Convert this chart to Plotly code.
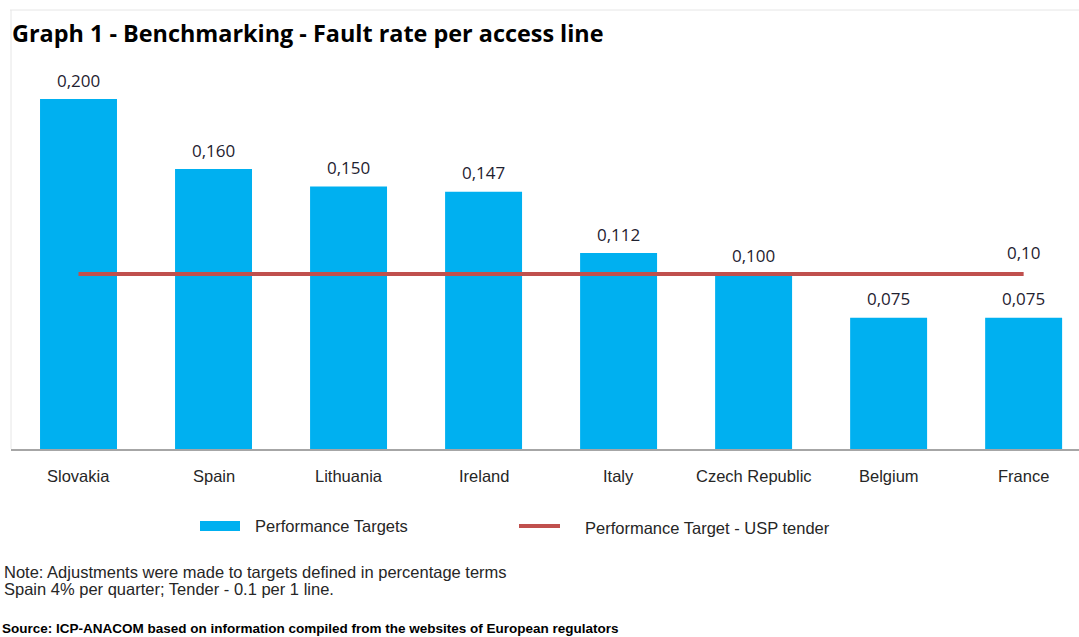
import plotly.graph_objects as go

countries = ["Slovakia", "Spain", "Lithuania", "Ireland", "Italy",
             "Czech Republic", "Belgium", "France"]
targets = [0.200, 0.160, 0.150, 0.147, 0.112, 0.100, 0.075, 0.075]
target_labels = ["0,200", "0,160", "0,150", "0,147", "0,112", "0,100", "0,075", "0,075"]
usp_tender = [0.10] * len(countries)
usp_label = "0,10"

BLUE = "#00B0F0"
RED = "#C0504D"

W, H = 1079, 637
pl, pr, pt, pb = 11, 0, 10, 188
pw, ph = W - pl - pr, H - pt - pb


def px(xp):
    return (xp - pl) / pw


def py(yp):
    return (H - pb - yp) / ph


fig = go.Figure()
fig.add_trace(go.Bar(x=countries, y=targets, marker_color=BLUE,
                     marker_line_width=0, width=0.57, showlegend=False))
fig.add_trace(go.Scatter(x=countries, y=usp_tender, mode="lines",
                         line=dict(color=RED, width=4), showlegend=False))

LABEL_FONT = dict(family="Open Sans", size=17, color="#1f2230")
ann = []
for c, v, t in zip(countries, targets, target_labels):
    ann.append(dict(x=c, y=v, text=t, showarrow=False, yshift=19, yanchor="middle",
                    font=LABEL_FONT))
ann.append(dict(x=countries[-1], y=usp_tender[-1], text=usp_label, showarrow=False,
                yshift=22, yanchor="middle", font=LABEL_FONT))
for c in countries:
    ann.append(dict(x=c, y=0, yref="paper", text=c, showarrow=False, yshift=-27,
                    yanchor="middle",
                    font=dict(family="Liberation Sans", size=16.5, color="#262626")))

ann.append(dict(x=px(10), y=py(33), xref="paper", yref="paper",
                text="<b>Graph 1 - Benchmarking - Fault rate per access line</b>",
                showarrow=False, xanchor="left", yanchor="middle",
                font=dict(family="Open Sans", size=23.4, color="#000000")))

extra = [
    dict(x=px(253), y=py(526), text="Performance Targets"),
    dict(x=px(583), y=py(528), text="Performance Target - USP tender"),
    dict(x=px(2), y=py(572), text="Note: Adjustments were made to targets defined in percentage terms"),
    dict(x=px(2), y=py(589), text="Spain 4% per quarter; Tender - 0.1 per 1 line."),
]
for e in extra:
    ann.append(dict(xref="paper", yref="paper", showarrow=False, xanchor="left",
                    yanchor="middle",
                    font=dict(family="Liberation Sans", size=16.5, color="#262626"), **e))
ann.append(dict(xref="paper", yref="paper", x=px(0), y=py(628), showarrow=False,
                xanchor="left", yanchor="middle",
                text="<b>Source: ICP-ANACOM based on information compiled from the websites of European regulators</b>",
                font=dict(family="Liberation Sans", size=13.5, color="#000000")))

shapes = [
    dict(type="rect", xref="paper", yref="paper", x0=px(200), x1=px(240), y0=py(531), y1=py(521),
         fillcolor=BLUE, line_width=0),
    dict(type="line", xref="paper", yref="paper", x0=px(519), x1=px(560), y0=py(526), y1=py(526),
         line=dict(color=RED, width=4)),
    dict(type="line", xref="paper", yref="paper", x0=px(10), x1=1, y0=py(10), y1=py(10),
         line=dict(color="#E6E6E6", width=1)),
    dict(type="line", xref="paper", yref="paper", x0=px(11), x1=px(11), y0=py(10), y1=py(449),
         line=dict(color="#E6E6E6", width=1)),
]

fig.update_layout(
    width=W, height=H,
    margin=dict(l=pl, r=pr, t=pt, b=pb),
    paper_bgcolor="white", plot_bgcolor="white",
    bargap=0.43,
    annotations=ann,
    shapes=shapes,
    xaxis=dict(range=[-0.5, 7.41], showticklabels=False, showgrid=False,
               showline=True, linecolor="#A6A6A6", linewidth=2, zeroline=False,
               fixedrange=True),
    yaxis=dict(range=[0, 0.2509], visible=False, fixedrange=True),
)

fig.write_html("out.html", config={"displayModeBar": False},
               post_script="document.body.style.margin='0';document.body.style.overflow='hidden';")
